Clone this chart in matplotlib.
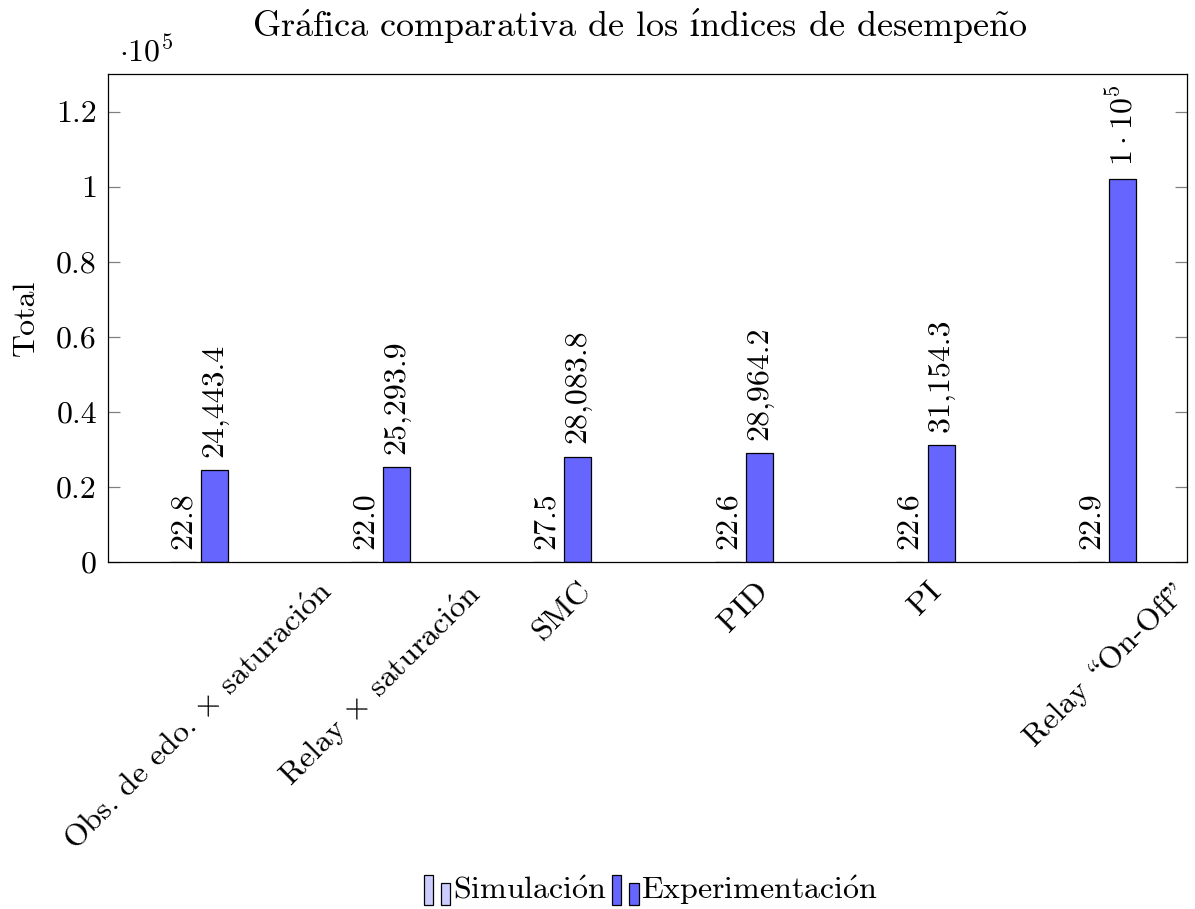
import numpy as np
import matplotlib
matplotlib.use("Agg")
import matplotlib.pyplot as plt
from matplotlib.patches import Rectangle
from matplotlib.legend_handler import HandlerBase
from matplotlib.ticker import FuncFormatter, MultipleLocator

# ===== DATOS =====
# acentos y signos en mathtext para que salgan en Computer Modern
controladores = [r"Obs. de edo. $\times$ saturaci$\mathrm{\acute{o}}$n",
                 r"Relay $\times$ saturaci$\mathrm{\acute{o}}$n", "SMC",
                 "PID", "PI", "Relay \\On-Off\""]
series = [r"Simulaci$\mathrm{\acute{o}}$n", r"Experimentaci$\mathrm{\acute{o}}$n"]
simulacion = [22.8, 22.0, 27.5, 22.6, 22.6, 22.9]
experimentacion = [24443.4, 25293.9, 28083.8, 28964.2, 31154.3, 101900.0]
titulo = (r"Gr$\mathrm{\acute{a}}$fica comparativa de los "
          "$\\mathrm{\\acute{\u0131}}$ndices de desempe$\\mathrm{\\tilde{n}}$o")

C_SIM = "#ccccff"
C_EXP = "#6666ff"
FS = 23

plt.rcParams["font.family"] = ["cmr10", "DejaVu Serif"]
plt.rcParams["mathtext.fontset"] = "cm"
plt.rcParams["axes.unicode_minus"] = False
plt.rcParams["axes.formatter.use_mathtext"] = True


def etiqueta(v):
    # formato tipo pgfplots: miles con coma, 1 decimal; notacion sci >= 1e5
    if v >= 1e5:
        e = int(np.floor(np.log10(v)))
        m = f"{v/10**e:.1f}".rstrip("0").rstrip(".")
        return rf"${m}\cdot10^{{{e}}}$"
    return f"{v:,.1f}"


class DosBarras(HandlerBase):
    # icono de leyenda estilo ybar: dos barritas de distinta altura
    def create_artists(self, legend, orig, xd, yd, w, h, fontsize, trans):
        fc = orig.get_facecolor()
        bw = w * 0.36
        y0 = yd - 0.25 * h
        r1 = Rectangle((xd, y0), bw, h * 1.3, facecolor=fc,
                       edgecolor="black", lw=0.9, transform=trans)
        r2 = Rectangle((xd + 1.9 * bw, y0), bw, h * 0.95, facecolor=fc,
                       edgecolor="black", lw=0.9, transform=trans)
        return [r1, r2]


fig = plt.figure(figsize=(11.95, 9.09), dpi=100)
ax = fig.add_axes([108/1195, 1-562/909, (1187-108)/1195, (562-74)/909])

x = np.arange(len(controladores))
bw = 0.148; off = 0.087
b1 = ax.bar(x - off, simulacion, bw, color=C_SIM, edgecolor="black", lw=0.9)
b2 = ax.bar(x + off, experimentacion, bw, color=C_EXP, edgecolor="black", lw=0.9)
for barras, vals in ((b1, simulacion), (b2, experimentacion)):
    ax.bar_label(barras, labels=[etiqueta(v) for v in vals], rotation=90,
                 padding=9.5, fontsize=FS)

ax.set_xlim(-0.5, 5.44)
ax.set_ylim(0, 1.3e5)
ax.yaxis.set_major_locator(MultipleLocator(0.2e5))
ax.yaxis.set_major_formatter(FuncFormatter(
    lambda v, p: f"{v/1e5:.1f}".rstrip("0").rstrip(".")))
ax.tick_params(axis="y", direction="in", length=8.5, width=0.9, color="#808080",
               right=True, labelsize=FS, pad=8)
ax.set_xticks(x)
ax.set_xticklabels(controladores, rotation=45, ha="center", va="top",
                   fontsize=FS)
ax.tick_params(axis="x", length=0, pad=11)
for s in ax.spines.values():
    s.set_linewidth(0.9)
ax.set_ylabel("Total", fontsize=FS, labelpad=12)
ax.text(0.01, 1.012, r"$\cdot10^5$", transform=ax.transAxes, fontsize=FS,
        ha="left", va="bottom")

fig.text(640/1195, 1-26/909, titulo, ha="center", va="center", fontsize=26)

h_sim = Rectangle((0, 0), 1, 1, facecolor=C_SIM, edgecolor="black")
h_exp = Rectangle((0, 0), 1, 1, facecolor=C_EXP, edgecolor="black")
fig.legend(handles=[h_sim, h_exp], labels=series, loc="center",
           bbox_to_anchor=(651/1195, 1-890/909),
           ncol=2, frameon=False, fontsize=FS, handlelength=0.8,
           handletextpad=0.12, columnspacing=0.15,
           handler_map={Rectangle: DosBarras()})

fig.savefig("out.png", dpi=100)
